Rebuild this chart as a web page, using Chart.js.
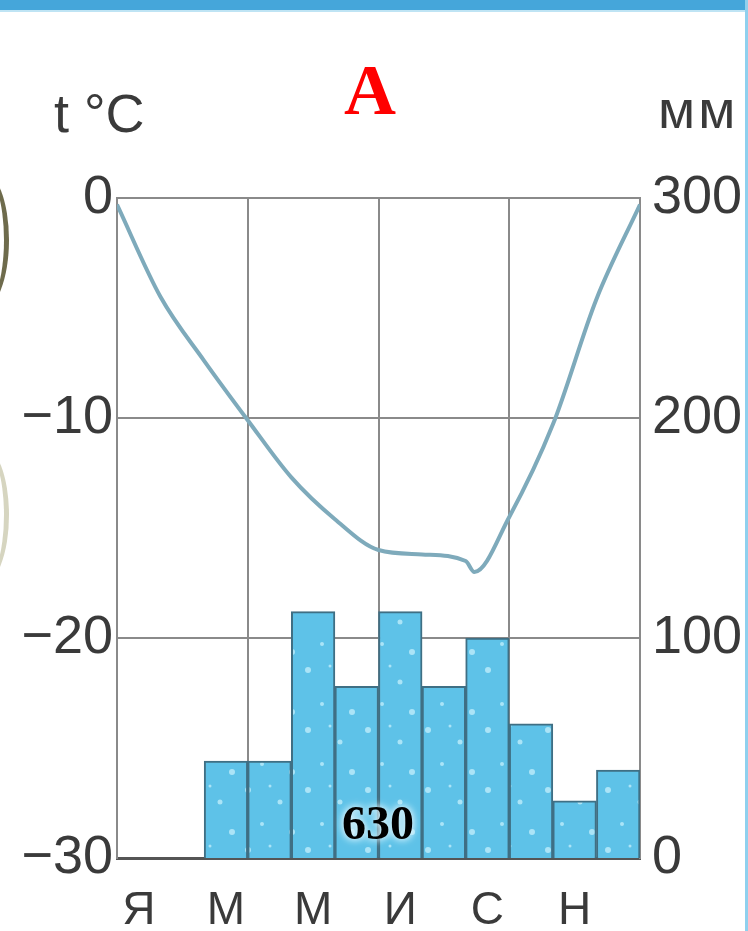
<!DOCTYPE html>
<html lang="ru">

<head>
  <meta charset="UTF-8">
  <title>Климатограмма А</title>
  <script src="https://cdn.jsdelivr.net/npm/chart.js"></script>
  <style>
    html, body { margin: 0; padding: 0; background: #fff; }
    .page { position: relative; width: 748px; height: 931px; overflow: hidden; background: #fff; }
    .topbar { position: absolute; left: 0; top: 0; width: 748px; height: 10px; background: #45a6da; border-bottom: 2px solid #bfe4f4; }
    .rightbar { position: absolute; right: 0; top: 0; width: 3px; height: 931px; background: #8fd0ee; }
    .leftarc { position: absolute; border-radius: 50%; }
    .chart-box { position: absolute; left: 0; top: 0; width: 748px; height: 931px; }
    .lbl { position: absolute; font-family: "Liberation Sans", Arial, sans-serif; color: #3a3a3a; white-space: nowrap; }
    .title { position: absolute; left: 344px; top: 49px; font-family: "Liberation Serif", "Times New Roman", serif; font-weight: bold; font-size: 72px; color: #ff0000; }
    .total { position: absolute; left: 342px; top: 795px; font-family: "Liberation Serif", "Times New Roman", serif; font-weight: bold; font-size: 48px; color: #000; text-shadow: 0 0 6px #dff5fc, 0 0 10px #dff5fc; }
  </style>
</head>

<body>
  <div class="page">
    <div class="topbar"></div>
    <div class="rightbar"></div>
    <div class="leftarc" style="left:-46px; top:170px; width:50px; height:140px; border-right:5px solid #6e6b4c;"></div>
    <div class="leftarc" style="left:-46px; top:445px; width:50px; height:140px; border-right:5px solid #d6d5c0;"></div>

    <div class="chart-box"><canvas id="climateChart"></canvas></div>

    <div class="title">A</div>
    <div class="lbl" style="left:54px; top:82px; font-size:54px;">t °C</div>
    <div class="lbl" style="left:658px; top:78px; font-size:54px; letter-spacing:3px;">мм</div>
    <div class="total">630</div>
  </div>

  <script>
    // months (only every second label is printed)
    const months = ['Я', 'Ф', 'М', 'А', 'М', 'И', 'И', 'А', 'С', 'О', 'Н', 'Д'];

    // precipitation, mm
    const precip = [0, 0, 44, 44, 112, 78, 112, 78, 100, 61, 26, 40];

    // temperature curve, read at month boundaries (0 = start of Jan, 12 = end of Dec)
    const tempX = [0, 1, 2, 3, 4, 5, 6, 7, 8, 8.2, 9, 10, 11, 12];
    const tempY = [-0.3, -4.5, -7.4, -10.1, -12.7, -14.6, -16.0, -16.2, -16.5, -17.0, -14.5, -10.3, -4.6, -0.3];

    // axis ticks
    const tempTicks = [-30, -20, -10, 0];
    const precipTicks = [0, 100, 200, 300];

    const gridGray = '#8a8a8a';
    const tickFont = { family: '"Liberation Sans", Arial, sans-serif', size: 54 };

    // light spotted fill like the printed bars
    function barPattern() {
      const c = document.createElement('canvas');
      c.width = 60; c.height = 60;
      const g = c.getContext('2d');
      g.fillStyle = '#5ec2e8';
      g.fillRect(0, 0, 60, 60);
      g.fillStyle = 'rgba(190,236,250,0.8)';
      [[8, 10, 3], [40, 22, 2.5], [22, 44, 2], [52, 52, 3], [30, 6, 1.5]].forEach(d => {
        g.beginPath(); g.arc(d[0], d[1], d[2], 0, Math.PI * 2); g.fill();
      });
      return g.createPattern(c, 'repeat');
    }

    const ctx = document.getElementById('climateChart').getContext('2d');

    new Chart(ctx, {
      data: {
        labels: months,
        datasets: [
          {
            type: 'line',
            label: 't °C',
            data: tempX.map((x, i) => ({ x: x, y: tempY[i] })),
            xAxisID: 'xT',
            yAxisID: 'y',
            borderColor: '#7eaabb',
            borderWidth: 4,
            pointRadius: 0,
            cubicInterpolationMode: 'monotone',
            order: 0
          },
          {
            type: 'bar',
            label: 'мм',
            data: precip,
            xAxisID: 'x',
            yAxisID: 'y2',
            grouped: false,
            backgroundColor: barPattern(),
            borderColor: '#3f6f84',
            borderWidth: { top: 2, left: 2, right: 2, bottom: 0 },
            borderSkipped: 'bottom',
            barPercentage: 1,
            categoryPercentage: 1,
            order: 1
          }
        ]
      },
      options: {
        responsive: true,
        maintainAspectRatio: false,
        animation: false,
        layout: { padding: { top: 198, left: 0, right: 0, bottom: 0 } },
        plugins: { legend: { display: false }, tooltip: { enabled: false } },
        scales: {
          x: {
            type: 'category',
            offset: true,
            grid: {
              offset: true,
              drawTicks: false,
              lineWidth: 2,
              color: c => (c.index !== undefined && c.index % 3 === 0 && c.index > 0) ? gridGray : 'rgba(0,0,0,0)'
            },
            border: { display: true, color: '#555', width: 3 },
            ticks: {
              autoSkip: false,
              maxRotation: 0,
              padding: 26,
              color: '#3a3a3a',
              font: { family: '"Liberation Sans", Arial, sans-serif', size: 46 },
              callback: (v, i) => i % 2 === 0 ? months[i] : ''
            },
            afterFit: s => { s.height = 73; }
          },
          xT: {
            type: 'linear',
            display: false,
            min: 0,
            max: 12
          },
          y: {
            position: 'left',
            min: -30,
            max: 0,
            afterBuildTicks: s => { s.ticks = tempTicks.map(v => ({ value: v })); },
            grid: { color: gridGray, lineWidth: 2, drawTicks: false },
            border: { display: true, color: gridGray, width: 2 },
            ticks: {
              padding: 4,
              color: '#3a3a3a',
              font: tickFont,
              callback: v => v < 0 ? '−' + Math.abs(v) : String(v)
            },
            afterFit: s => { s.width = 117; }
          },
          y2: {
            position: 'right',
            min: 0,
            max: 300,
            afterBuildTicks: s => { s.ticks = precipTicks.map(v => ({ value: v })); },
            grid: { display: false, drawTicks: false },
            border: { display: true, color: gridGray, width: 2 },
            ticks: { padding: 12, color: '#3a3a3a', font: tickFont },
            afterFit: s => { s.width = 108; }
          }
        }
      }
    });
  </script>
</body>

</html>
